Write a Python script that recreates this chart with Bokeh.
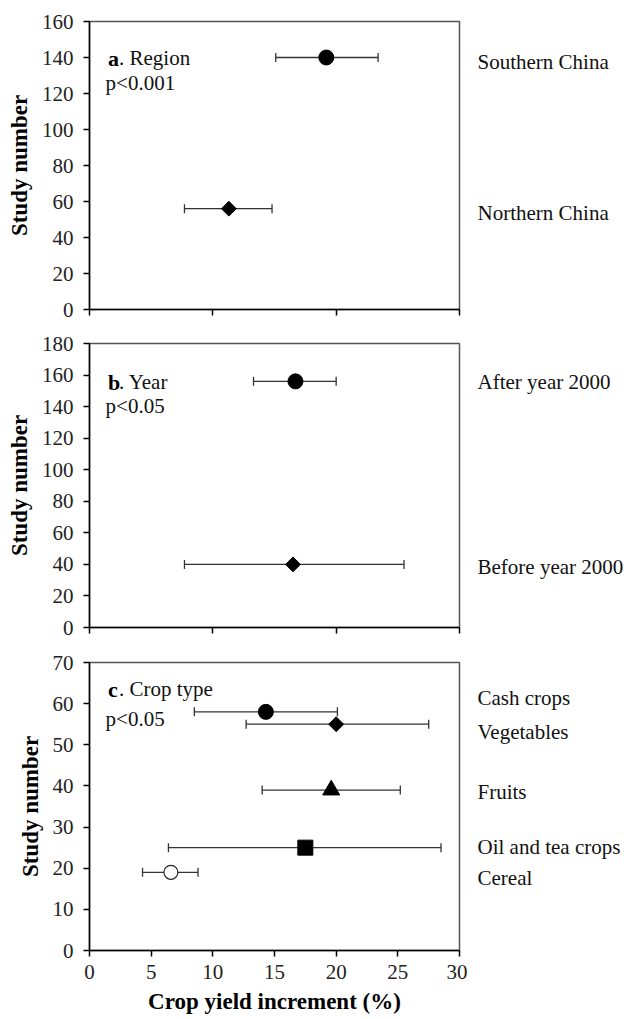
import math
from bokeh.plotting import figure
from bokeh.layouts import column, row
from bokeh.models import Range1d, FixedTicker, Label, Whisker, TeeHead, ColumnDataSource
from bokeh.core.properties import value
from bokeh.embed import file_html
from bokeh.resources import INLINE

# ---------------- data ----------------
region_names = ["Southern China", "Northern China"]
region_mean = [19.2, 11.3]
region_lo = [15.1, 7.7]
region_hi = [23.4, 14.8]
region_n = [140, 56]
region_markers = ["circle", "diamond"]

year_names = ["After year 2000", "Before year 2000"]
year_mean = [16.7, 16.5]
year_lo = [13.3, 7.7]
year_hi = [20.0, 25.5]
year_n = [156, 40]
year_markers = ["circle", "diamond"]

crop_names = ["Cash crops", "Vegetables", "Fruits", "Oil and tea crops", "Cereal"]
crop_mean = [14.3, 20.0, 19.6, 17.5, 6.6]
crop_lo = [8.5, 12.7, 14.0, 6.4, 4.3]
crop_hi = [20.1, 27.5, 25.2, 28.5, 8.8]
crop_n = [58, 55, 39, 25, 19]
crop_markers = ["circle", "diamond", "triangle", "square", "circle_open"]

x_ticks_all = [0, 5, 10, 15, 20, 25, 30]
x_ticks_top = [0, 10, 20, 30]

FONT = "Liberation Serif"
TICK_FS = "21px"
LAB_FS = "21px"
TITLE_FS = "23px"

LEFT = 89
FRAME_W = 370
RIGHT = 8
LAB_W = 162


def make_panel(letter, title, ptext, names, mean, lo, hi, n, markers, ymax, ystep,
               head_y, p_y, nudges, top_border, frame_h, bottom_border, show_x):
    h = top_border + frame_h + bottom_border
    p = figure(width=LEFT + FRAME_W + RIGHT, height=h,
               frame_width=FRAME_W, frame_height=frame_h,
               x_range=Range1d(0, 30), y_range=Range1d(0, ymax),
               output_backend="svg", toolbar_location=None,
               min_border_left=LEFT, min_border_right=RIGHT,
               min_border_top=top_border, min_border_bottom=bottom_border)
    p.grid.visible = False
    p.outline_line_color = "#555555"
    p.outline_line_width = 1.5
    p.background_fill_color = "white"
    p.border_fill_color = "white"

    for ax in (p.xaxis, p.yaxis):
        ax.axis_line_color = "black"
        ax.axis_line_width = 1.5
        ax.major_tick_line_color = "black"
        ax.major_tick_line_width = 1.5
        ax.major_tick_in = 0
        ax.major_tick_out = 6
        ax.minor_tick_line_color = None
        ax.major_label_text_font = FONT
        ax.major_label_text_font_size = TICK_FS
        ax.major_label_text_color = "#222222"
        ax.axis_label_text_font = FONT
        ax.axis_label_text_font_size = TITLE_FS
        ax.axis_label_text_font_style = "bold"
        ax.axis_label_text_color = "black"

    p.yaxis.ticker = FixedTicker(ticks=list(range(0, ymax + 1, ystep)))
    p.yaxis.axis_label = "Study number"
    p.yaxis.major_label_standoff = 10
    p.yaxis.axis_label_standoff = 7

    if show_x:
        p.xaxis.ticker = FixedTicker(ticks=x_ticks_all)
        p.xaxis.axis_label = "Crop yield increment (%)"
        p.xaxis.major_label_standoff = 8
        p.xaxis.axis_label_standoff = 7
    else:
        p.xaxis.ticker = FixedTicker(ticks=x_ticks_top)
        p.xaxis.major_label_overrides = {t: "" for t in x_ticks_top}

    src = ColumnDataSource(dict(m=mean, lo=lo, hi=hi, n=n))
    p.add_layout(Whisker(source=src, base="n", lower="lo", upper="hi", dimension="width",
                         line_color="#333333", line_width=1.3,
                         lower_head=TeeHead(size=9, line_color="#333333", line_width=1.3),
                         upper_head=TeeHead(size=9, line_color="#333333", line_width=1.3)))

    for i, mk in enumerate(markers):
        if mk == "circle_open":
            p.scatter([mean[i]], [n[i]], marker="circle", size=14,
                      fill_color="white", line_color="#222222", line_width=1.2)
        elif mk == "diamond":
            p.scatter([mean[i]], [n[i]], marker="square", size=10.5, angle=math.pi / 4,
                      fill_color="black", line_color="black")
        elif mk == "triangle":
            p.scatter([mean[i]], [n[i]], marker="triangle", size=17,
                      fill_color="black", line_color="black")
        elif mk == "square":
            p.scatter([mean[i]], [n[i]], marker="square", size=15,
                      fill_color="black", line_color="black")
        else:
            p.scatter([mean[i]], [n[i]], marker="circle", size=15,
                      fill_color="black", line_color="black")

    # panel heading
    p.add_layout(Label(x=1.5, y=head_y, text=letter, text_font=FONT, text_font_size="22px",
                       text_font_style="bold", text_baseline="middle", text_color="black"))
    p.add_layout(Label(x=1.5, y=head_y, x_offset=11, text=title, text_font=FONT,
                       text_font_size=LAB_FS, text_baseline="middle", text_color="#111111"))
    p.add_layout(Label(x=1.3, y=p_y, text=ptext, text_font=FONT,
                       text_font_size=LAB_FS, text_baseline="middle", text_color="#111111"))

    # right-hand category labels in a companion figure sharing the y scale
    q = figure(width=LAB_W, height=h, frame_width=LAB_W, frame_height=frame_h,
               x_range=Range1d(0, LAB_W), y_range=p.y_range,
               output_backend="svg", toolbar_location=None,
               min_border_left=0, min_border_right=0,
               min_border_top=top_border, min_border_bottom=bottom_border)
    q.axis.visible = False
    q.grid.visible = False
    q.outline_line_color = None
    q.background_fill_color = "white"
    q.border_fill_color = "white"
    lsrc = ColumnDataSource(dict(x=[10] * len(names), y=n, t=names,
                                 dy=[-d for d in nudges]))
    q.text(x="x", y="y", text="t", source=lsrc, y_offset="dy",
           text_font=value(FONT), text_font_size=LAB_FS, text_color="#111111",
           text_baseline="middle", text_align="left")
    return row(p, q, spacing=0)


pa = make_panel("a", ". Region", "p<0.001", region_names, region_mean, region_lo, region_hi,
                region_n, region_markers, 160, 20, 139.5, 126, [-4, -4],
                21, 288, 20, False)
pb = make_panel("b", ". Year", "p<0.05", year_names, year_mean, year_lo, year_hi,
                year_n, year_markers, 180, 20, 155.5, 140.5, [-1, -3],
                14, 284, 20, False)
pc = make_panel("c", ". Crop type", "p<0.05", crop_names, crop_mean, crop_lo, crop_hi,
                crop_n, crop_markers, 70, 10, 63.5, 56.3, [14, -8, -2, 1, -6],
                15, 288, 66, True)

layout = column(pa, pb, pc, spacing=0)
open("out.html", "w").write(file_html(layout, INLINE))
